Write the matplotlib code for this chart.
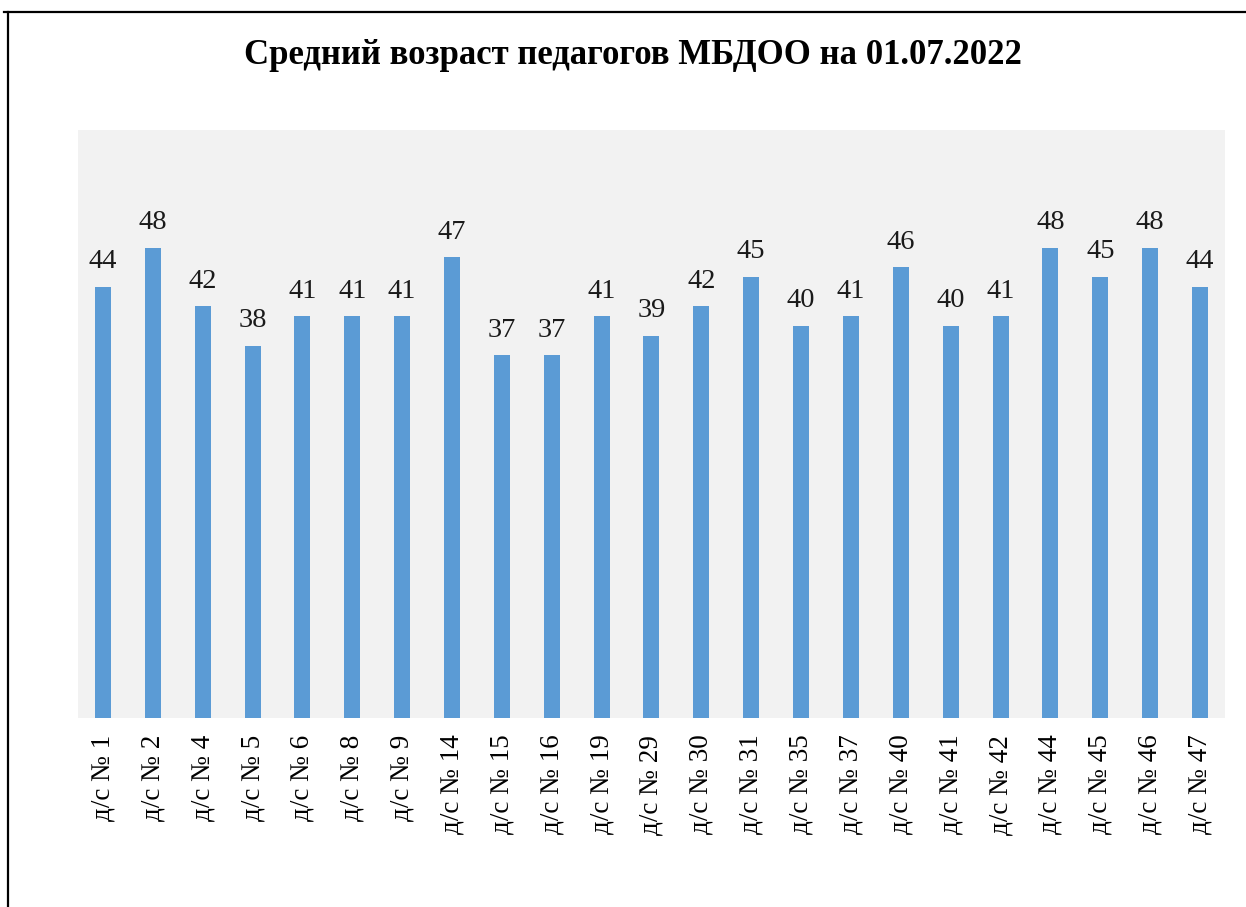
import matplotlib
matplotlib.use("Agg")
import matplotlib.pyplot as plt
from matplotlib.lines import Line2D

# data
kindergartens = ["д/с № 1", "д/с № 2", "д/с № 4", "д/с № 5", "д/с № 6", "д/с № 8",
                 "д/с № 9", "д/с № 14", "д/с № 15", "д/с № 16", "д/с № 19", "д/с № 29",
                 "д/с № 30", "д/с № 31", "д/с № 35", "д/с № 37", "д/с № 40", "д/с № 41",
                 "д/с № 42", "д/с № 44", "д/с № 45", "д/с № 46", "д/с № 47"]
avg_age = [44, 48, 42, 38, 41, 41, 41, 47, 37, 37, 41, 39,
           42, 45, 40, 41, 46, 40, 41, 48, 45, 48, 44]

plt.rcParams['font.family'] = ['Liberation Serif', 'DejaVu Serif']

fig = plt.figure(figsize=(12.46, 9.07), dpi=100)
ax = fig.add_axes([0.0626, 0.2084, 0.9205, 0.6483])
ax.set_facecolor("#F2F2F2")

x = range(len(kindergartens))
bars = ax.bar(x, avg_age, width=0.32, color="#5B9BD5")
ax.bar_label(bars, labels=[str(v) for v in avg_age], padding=9, fontsize=20.5, color="#1a1a1a")

ax.set_xlim(-0.5, len(kindergartens) - 0.5)
ax.set_ylim(0, 60)
ax.set_yticks([])
ax.set_xticks(list(x))
ax.set_xticklabels(kindergartens, rotation=90, fontsize=19.5)
ax.tick_params(axis="x", length=0, pad=12)
for s in ax.spines.values():
    s.set_visible(False)

fig.text(0.508, 0.939, "Средний возраст педагогов МБДОО на 01.07.2022",
         ha="center", va="center", fontsize=25, fontweight="bold")

# frame around the chart
fig.add_artist(Line2D([0.003, 1.0], [0.987, 0.987], color="black", lw=1.6))
fig.add_artist(Line2D([0.0068, 0.0068], [0.0, 0.987], color="black", lw=1.6))

fig.savefig("out.png", dpi=100)
plt.close(fig)
